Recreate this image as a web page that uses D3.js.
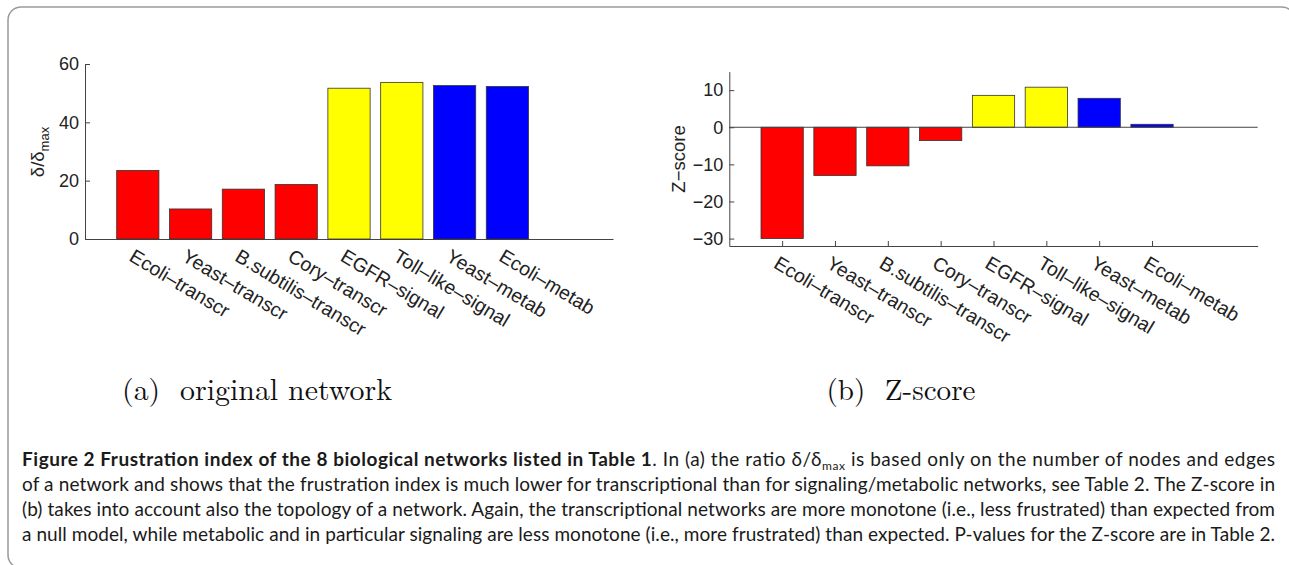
<!DOCTYPE html>
<html>
<head>
<meta charset="utf-8">
<script src="https://cdn.jsdelivr.net/npm/d3@7"></script>
<style>
  html, body { margin: 0; padding: 0; background: #fff; }
  svg { display: block; }
</style>
</head>
<body>
<svg id="chart" width="1289" height="565"></svg>
<script>
// ---------------- data ----------------
const categories = ["Ecoli–transcr", "Yeast–transcr", "B.subtilis–transcr", "Cory–transcr",
                    "EGFR–signal", "Toll–like–signal", "Yeast–metab", "Ecoli–metab"];
const barColors = ["#ff0000", "#ff0000", "#ff0000", "#ff0000", "#ffff00", "#ffff00", "#0000ff", "#0000ff"];
const ratioValues = [23.5, 10.3, 17.1, 18.7, 51.7, 53.7, 52.6, 52.3];
const zscoreValues = [-30, -13, -10.4, -3.6, 8.6, 10.8, 7.8, 0.8];
const ratioTicks = [0, 20, 40, 60];
const zscoreTicks = [-30, -20, -10, 0, 10];
const subtitleA = "(a)  original network";
const subtitleB = "(b)  Z-score";
const captionBold = "Figure 2 Frustration index of the 8 biological networks listed in Table 1";
const captionLine1 = [". In (a) the ratio δ/δ", "max", " is based only on the number of nodes and edges"];
const captionLines = [
  "of a network and shows that the frustration index is much lower for transcriptional than for signaling/metabolic networks, see Table 2. The Z-score in",
  "(b) takes into account also the topology of a network. Again, the transcriptional networks are more monotone (i.e., less frustrated) than expected from",
  "a null model, while metabolic and in particular signaling are less monotone (i.e., more frustrated) than expected. P-values for the Z-score are in Table 2."
];

const svg = d3.select("#chart");
const axisColor = "#444";
const sans = "'Liberation Sans', Arial, Helvetica, sans-serif";
const idx = d3.range(1, categories.length + 1);

// frame
svg.append("rect")
  .attr("x", 8).attr("y", 7).attr("width", 1287).attr("height", 561)
  .attr("rx", 13).attr("ry", 13)
  .attr("fill", "none").attr("stroke", "#9a9a9a").attr("stroke-width", 1.5);

function panel(opts) {
  const g = svg.append("g");
  const x = d3.scaleLinear().domain([0, 10]).range([opts.x0, opts.x1]);
  const y = d3.scaleLinear().domain(opts.yDomain).range([opts.yBottom, opts.yTop]);
  const bw = x(0.8) - x(0);

  const yAxis = g.append("g")
    .attr("transform", `translate(${opts.x0},0)`)
    .call(d3.axisLeft(y).tickValues(opts.ticks).tickSize(-5).tickSizeOuter(0).tickPadding(6));
  yAxis.select(".domain").attr("stroke", axisColor);
  yAxis.selectAll(".tick line").attr("stroke", axisColor);
  yAxis.selectAll(".tick text")
    .attr("font-family", sans).attr("font-size", 18).attr("fill", "#222")
    .text(d => d < 0 ? "−" + Math.abs(d) : d);

  const xAxis = g.append("g")
    .attr("transform", `translate(0,${opts.yBottom})`)
    .call(d3.axisBottom(x).tickValues(idx).tickSize(-5).tickSizeOuter(0)
      .tickFormat((d, i) => categories[i]));
  xAxis.select(".domain").attr("stroke", axisColor);
  xAxis.selectAll(".tick line").attr("stroke", axisColor);
  xAxis.selectAll(".tick text")
    .attr("font-family", sans).attr("font-size", 19.5).attr("fill", "#222")
    .attr("text-anchor", "start")
    .attr("x", 0).attr("y", 0).attr("dy", "0.72em")
    .attr("transform", "translate(-3,9) rotate(31)");

  g.append("g").selectAll("rect")
    .data(opts.values)
    .join("rect")
    .attr("x", (d, i) => x(i + 1) - bw / 2)
    .attr("width", bw)
    .attr("y", d => y(Math.max(0, d)))
    .attr("height", d => Math.abs(y(d) - y(0)))
    .attr("fill", (d, i) => barColors[i])
    .attr("stroke", "#333").attr("stroke-width", 0.8);

  if (opts.zeroLine) {
    g.append("line")
      .attr("x1", opts.x0).attr("x2", opts.x1)
      .attr("y1", y(0)).attr("y2", y(0))
      .attr("stroke", axisColor);
  }

  const yl = g.append("text")
    .attr("transform", `translate(${opts.labelX},${opts.labelY}) rotate(-90)`)
    .attr("text-anchor", "middle")
    .attr("font-family", sans).attr("font-size", 18.5).attr("fill", "#222");
  opts.label(yl);
  return g;
}

panel({
  x0: 85, x1: 613, yTop: 64, yBottom: 239, yDomain: [0, 60],
  ticks: ratioTicks, values: ratioValues, zeroLine: false,
  labelX: 44, labelY: 152,
  label: t => {
    t.append("tspan").text("δ/δ");
    t.append("tspan").attr("font-size", 13).attr("dy", 5).text("max");
  }
});

panel({
  x0: 729.3, x1: 1257.7, yTop: 71.6, yBottom: 246, yDomain: [-32, 15],
  ticks: zscoreTicks, values: zscoreValues, zeroLine: true,
  labelX: 685, labelY: 159,
  label: t => t.text("Z−score")
});

function fitText(sel, targetWidth, base) {
  sel.attr("font-size", base);
  const w = sel.node().getComputedTextLength();
  sel.attr("font-size", base * targetWidth / w);
}
const serif = "'Latin Modern Roman', 'CMU Serif', 'Liberation Serif', 'DejaVu Serif', serif";
const sa = svg.append("text").attr("x", 257).attr("y", 400).attr("text-anchor", "middle")
  .attr("font-family", serif).attr("fill", "#111").style("white-space", "pre").text(subtitleA);
fitText(sa, 270, 34);
const sb = svg.append("text").attr("x", 901).attr("y", 400).attr("text-anchor", "middle")
  .attr("font-family", serif).attr("fill", "#111").style("white-space", "pre").text(subtitleB);
fitText(sb, 149, 34);

const capFont = "Lato, 'Open Sans', 'Noto Sans', sans-serif";
const capX = 22, capW = 1253, capSize = 19;
const baselines = [466, 491, 516, 541];
const l1 = svg.append("text").attr("x", capX).attr("y", baselines[0])
  .attr("font-family", capFont).attr("font-size", capSize).attr("fill", "#1a1a1a");
l1.append("tspan").attr("font-weight", "bold").text(captionBold);
l1.append("tspan").text(captionLine1[0]);
l1.append("tspan").attr("font-size", 12).attr("dy", 4).text(captionLine1[1]);
l1.append("tspan").attr("dy", -4).text(captionLine1[2]);
l1.attr("textLength", capW).attr("lengthAdjust", "spacing");

captionLines.forEach((s, i) => {
  svg.append("text").attr("x", capX).attr("y", baselines[i + 1])
    .attr("font-family", capFont).attr("font-size", capSize).attr("fill", "#1a1a1a")
    .attr("textLength", capW).attr("lengthAdjust", "spacing")
    .text(s);
});
</script>
</body>
</html>
